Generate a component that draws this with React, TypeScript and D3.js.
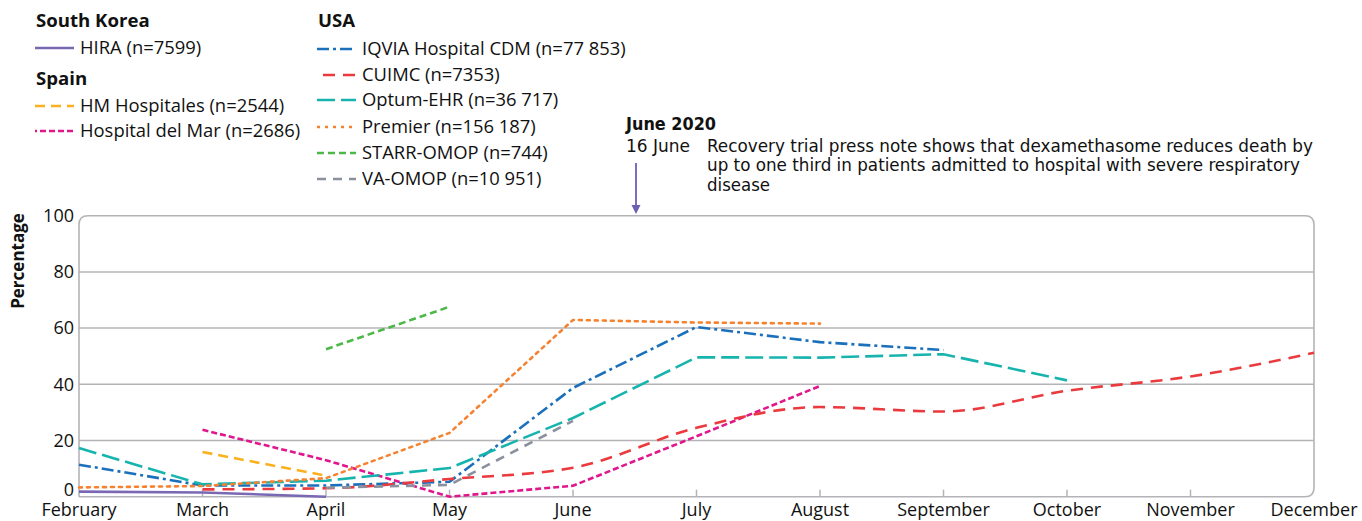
import React from "react";
import * as d3 from "d3";

const months = ["February","March","April","May","June","July","August","September","October","November","December"];
const yTicks = [0, 20, 40, 60, 80, 100];

type V = number | null;
const hira: V[] = [1.8, 1.5, 0, null, null, null, null, null, null, null, null];
const hmHospitales: V[] = [null, 15.9, 7.5, null, null, null, null, null, null, null, null];
const hospitalDelMar: V[] = [null, 23.8, 13.0, 0, 3.9, 21.5, 39.4, null, null, null, null];
const iqvia: V[] = [11.4, 4.0, 4.0, 5.3, 38.7, 60.4, 55.0, 52.2, null, null, null];
const cuimc: V[] = [null, 2.6, 3.0, 6.3, 10.3, 24.5, 31.9, 30.3, 37.7, 42.8, 51.2];
const optum: V[] = [17.3, 4.4, 5.7, 10.2, 28.0, 49.6, 49.5, 50.7, 41.4, null, null];
const premier: V[] = [3.3, 3.8, 6.6, 22.7, 62.9, 62.0, 61.6, null, null, null, null];
const starr: V[] = [null, null, 52.5, 67.6, null, null, null, null, null, null, null];
const vaOmop: V[] = [null, null, 3.2, 4.2, 27.0, null, null, null, null, null, null];

const series = [
  { name: "HIRA (n=7599)", values: hira, color: "#7a68b3", dash: "", offset: 0 },
  { name: "HM Hospitales (n=2544)", values: hmHospitales, color: "#fbb01e", dash: "10 6", offset: 0 },
  { name: "Hospital del Mar (n=2686)", values: hospitalDelMar, color: "#e0168c", dash: "6 3", offset: 4 },
  { name: "IQVIA Hospital CDM (n=77 853)", values: iqvia, color: "#1b70bb", dash: "12 4 3 4", offset: 0 },
  { name: "CUIMC (n=7353)", values: cuimc, color: "#ea3a3e", dash: "12 8", offset: 14 },
  { name: "Optum-EHR (n=36 717)", values: optum, color: "#17b4ae", dash: "18 6", offset: 0 },
  { name: "Premier (n=156 187)", values: premier, color: "#f5822f", dash: "3 5", offset: 0 },
  { name: "STARR-OMOP (n=744)", values: starr, color: "#4db848", dash: "7 4", offset: 0 },
  { name: "VA-OMOP (n=10 951)", values: vaOmop, color: "#8b909d", dash: "9 7", offset: 0 },
];

const FONT = "'Open Sans', sans-serif";
const COND = "'Liberation Sans Narrow', 'DejaVu Sans Condensed', 'Open Sans', sans-serif";

const leftRows = [
  { type: "head", text: "South Korea", y: 20 },
  { type: "item", idx: 0, y: 48 },
  { type: "head", text: "Spain", y: 78 },
  { type: "item", idx: 1, y: 106 },
  { type: "item", idx: 2, y: 131 },
];
const rightRows = [
  { type: "head", text: "USA", y: 20 },
  { type: "item", idx: 3, y: 49 },
  { type: "item", idx: 4, y: 75 },
  { type: "item", idx: 5, y: 100 },
  { type: "item", idx: 6, y: 127 },
  { type: "item", idx: 7, y: 153 },
  { type: "item", idx: 8, y: 179 },
];

export default function App() {
  const W = 1362, H = 521;
  const x = d3.scalePoint<string>().domain(months).range([79, 1314]);
  const y = d3.scaleLinear().domain([0, 100]).range([496.7, 215.7]);
  const x0 = x(months[0])!, x1 = x(months[months.length - 1])!;
  const yT = y(100), yB = y(0);
  const r = 9;

  const line = (curve: d3.CurveFactory) =>
    d3.line<V>()
      .defined((d) => d !== null)
      .x((_, i) => x(months[i])!)
      .y((d) => y(d as number))
      .curve(curve);

  const framePath = `M${x0},${yB} L${x0},${yT + r} Q${x0},${yT} ${x0 + r},${yT} L${x1 - r},${yT} Q${x1},${yT} ${x1},${yT + r} L${x1},${yB - r} Q${x1},${yB} ${x1 - r},${yB} L${x0},${yB}`;

  const renderRows = (rows: any[], lx: number) =>
    rows.map((row, k) =>
      row.type === "head" ? (
        <text key={k} x={lx + 1} y={row.y} dy="0.35em" fontFamily={FONT} fontWeight={700} fontSize={18.6} fill="#111">
          {row.text}
        </text>
      ) : (
        <g key={k}>
          <line x1={lx} x2={lx + 39} y1={row.y} y2={row.y} stroke={series[row.idx].color} strokeWidth={2.5}
            strokeDasharray={series[row.idx].dash || undefined} strokeDashoffset={series[row.idx].offset} />
          <text x={lx + 45} y={row.y} dy="0.35em" fontFamily={FONT} fontSize={18.4} fill="#111">
            {series[row.idx].name}
          </text>
        </g>
      )
    );

  const arrowX = 636;

  return (
    <svg width={W} height={H} style={{ position: "absolute", left: 0, top: 0, background: "#fff" }}>
      {yTicks.filter((t) => t > 0 && t < 100).map((t) => (
        <line key={t} x1={x0} x2={x1} y1={y(t)} y2={y(t)} stroke="#b4b4b8" strokeWidth={1.5} />
      ))}
      {months.slice(1, -1).map((m) => (
        <line key={m} x1={x(m)} x2={x(m)} y1={yB} y2={yB - 7} stroke="#b4b4b8" strokeWidth={1.5} />
      ))}
      <path d={framePath} fill="none" stroke="#b4b4b8" strokeWidth={1.6} />

      {series.map((s) => (
        <path key={s.name}
          d={line(s.name.startsWith("CUIMC") ? d3.curveMonotoneX : d3.curveLinear)(s.values) || ""}
          fill="none" stroke={s.color} strokeWidth={2.6}
          strokeDasharray={s.dash || undefined}
          strokeLinecap={s.dash === "3 5" ? "round" : "butt"} />
      ))}

      {yTicks.map((t) => (
        <text key={t} x={74} y={y(t) - (t === 0 ? 7.5 : 0)} dy="0.35em" textAnchor="end" fontFamily={FONT} fontSize={18} fill="#111">
          {t}
        </text>
      ))}
      <text transform={`translate(24,261) rotate(-90)`} textAnchor="middle" fontFamily={FONT} fontWeight={700} fontSize={17} fill="#111">
        Percentage
      </text>

      {months.map((m) => (
        <text key={m} x={x(m)} y={509.8} dy="0.35em" textAnchor="middle" fontFamily={FONT} fontSize={18} fill="#111">
          {m}
        </text>
      ))}

      {renderRows(leftRows, 35)}
      {renderRows(rightRows, 317)}

      <text x={626} y={124} dy="0.35em" fontFamily={COND} fontWeight={700} fontSize={18} fill="#111" textLength={90} lengthAdjust="spacingAndGlyphs">
        June 2020
      </text>
      <text x={626} y={146} dy="0.35em" fontFamily={COND} fontSize={18} fill="#111" textLength={64} lengthAdjust="spacingAndGlyphs">
        16 June
      </text>
      <text x={707} y={146} dy="0.35em" fontFamily={COND} fontSize={18} fill="#111" textLength={606} lengthAdjust="spacingAndGlyphs">
        Recovery trial press note shows that dexamethasome reduces death by
      </text>
      <text x={707} y={165} dy="0.35em" fontFamily={COND} fontSize={18} fill="#111" textLength={593} lengthAdjust="spacingAndGlyphs">
        up to one third in patients admitted to hospital with severe respiratory
      </text>
      <text x={707} y={185} dy="0.35em" fontFamily={COND} fontSize={18} fill="#111" textLength={63} lengthAdjust="spacingAndGlyphs">
        disease
      </text>
      <line x1={arrowX} x2={arrowX} y1={163} y2={206} stroke="#6e5fb1" strokeWidth={1.8} />
      <path d={`M${arrowX - 4.5},${205} L${arrowX + 4.5},${205} L${arrowX},${214} Z`} fill="#6e5fb1" />
    </svg>
  );
}
